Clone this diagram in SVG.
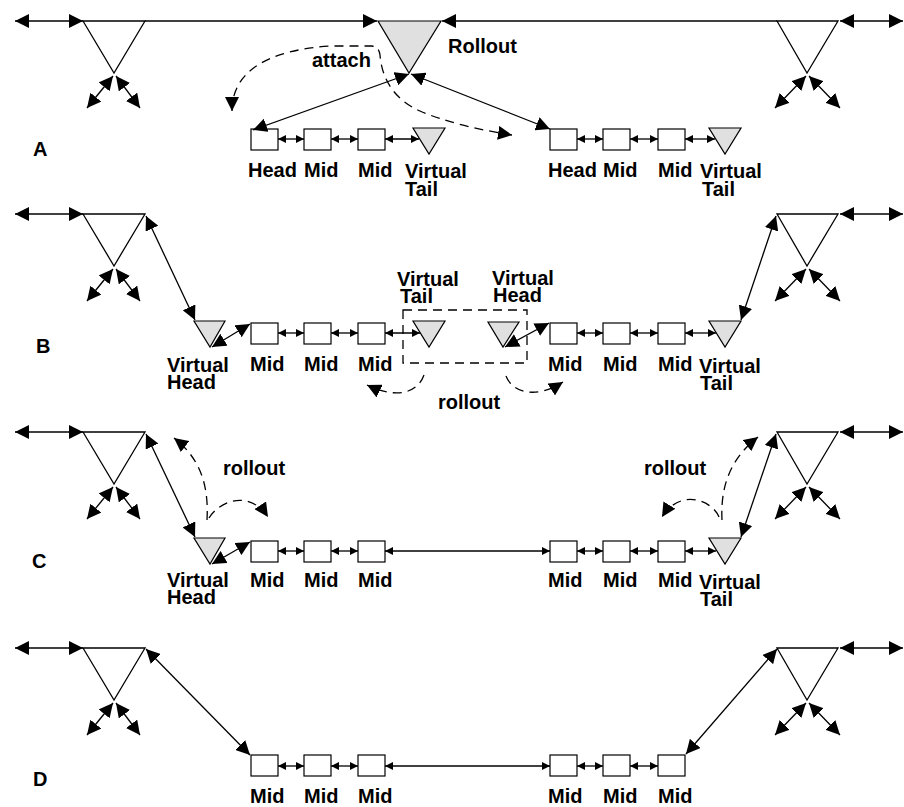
<svg xmlns="http://www.w3.org/2000/svg" width="904" height="807" viewBox="0 0 904 807">
<style>
.ln{stroke:#000;stroke-width:1.3;fill:none}
.dd{stroke:#000;stroke-width:1.3;fill:none;stroke-dasharray:9,6}
.sw{stroke:#000;stroke-width:1.3;fill:none}
.bx{stroke:#000;stroke-width:1.2;fill:#fff}
.vt{stroke:#000;stroke-width:1.2;fill:#e0e0e0}
.t{font-family:"Liberation Sans",Arial,Helvetica,sans-serif;font-weight:bold;font-size:20px;fill:#000}
.b2{marker-start:url(#ah);marker-end:url(#ah)}
.e1{marker-end:url(#ah)}
.s1{marker-start:url(#ah)}
.k2{marker-start:url(#as);marker-end:url(#as)}
</style>
<defs>
<marker id="ah" viewBox="0 0 14 14" refX="14" refY="7" markerWidth="14" markerHeight="14" markerUnits="userSpaceOnUse" orient="auto-start-reverse"><path d="M0,0 L14,7 L0,14 z" fill="#000"/></marker>
<marker id="as" viewBox="0 0 8 8" refX="8" refY="4" markerWidth="8" markerHeight="8" markerUnits="userSpaceOnUse" orient="auto-start-reverse"><path d="M0,0 L8,4 L0,8 z" fill="#000"/></marker>
</defs>

<!-- ================= A ================= -->
<g id="A-label"><text class="t" x="33" y="156">A</text></g>
<g id="A-swL"><polygon class="sw" points="83,21 145,21 114,73"/></g>
<g id="A-swR"><polygon class="sw" points="777,21 838,21 807,73"/></g>
<g id="A-rollout"><polygon class="vt" points="378,21 441,21 409,73"/><text class="t" x="448" y="53">Rollout</text></g>
<g id="A-L-head"><rect class="bx" x="251" y="129" width="27" height="21"/><text class="t" x="248" y="177">Head</text></g>
<g id="A-L-mid1"><rect class="bx" x="304" y="129" width="27" height="21"/><text class="t" x="304" y="177">Mid</text></g>
<g id="A-L-mid2"><rect class="bx" x="358" y="129" width="27" height="21"/><text class="t" x="358" y="177">Mid</text></g>
<g id="A-L-vtail"><polygon class="vt" points="413,128 445,128 429,154"/><text class="t" x="405" y="178">Virtual</text><text class="t" x="405" y="196">Tail</text></g>
<g id="A-R-head"><rect class="bx" x="550" y="129" width="27" height="21"/><text class="t" x="548" y="177">Head</text></g>
<g id="A-R-mid1"><rect class="bx" x="603" y="129" width="27" height="21"/><text class="t" x="603" y="177">Mid</text></g>
<g id="A-R-mid2"><rect class="bx" x="658" y="129" width="27" height="21"/><text class="t" x="658" y="177">Mid</text></g>
<g id="A-R-vtail"><polygon class="vt" points="709,128 741,128 725,154"/><text class="t" x="700" y="178">Virtual</text><text class="t" x="702" y="196">Tail</text></g>
<g id="A-attach"><text class="t" x="312" y="67">attach</text></g>

<!-- ================= B ================= -->
<g id="B-label"><text class="t" x="36" y="353">B</text></g>
<g id="B-swL"><polygon class="sw" points="83,214 145,214 114,266"/></g>
<g id="B-swR"><polygon class="sw" points="777,214 838,214 807,266"/></g>
<g id="B-L-vhead"><polygon class="vt" points="194,321 225,321 210,347"/><text class="t" x="167" y="372">Virtual</text><text class="t" x="167" y="389">Head</text></g>
<g id="B-L-mid1"><rect class="bx" x="251" y="323" width="27" height="21"/><text class="t" x="250" y="371">Mid</text></g>
<g id="B-L-mid2"><rect class="bx" x="304" y="323" width="27" height="21"/><text class="t" x="304" y="371">Mid</text></g>
<g id="B-L-mid3"><rect class="bx" x="358" y="323" width="27" height="21"/><text class="t" x="358" y="371">Mid</text></g>
<g id="B-L-vtail"><polygon class="vt" points="413,321 445,321 429,347"/><text class="t" x="397" y="286">Virtual</text><text class="t" x="400" y="303">Tail</text></g>
<g id="B-R-vhead"><polygon class="vt" points="488,322 519,322 503,347"/><text class="t" x="492" y="285">Virtual</text><text class="t" x="493" y="302">Head</text></g>
<g id="B-R-mid1"><rect class="bx" x="550" y="323" width="27" height="21"/><text class="t" x="548" y="371">Mid</text></g>
<g id="B-R-mid2"><rect class="bx" x="603" y="323" width="27" height="21"/><text class="t" x="603" y="371">Mid</text></g>
<g id="B-R-mid3"><rect class="bx" x="658" y="323" width="27" height="21"/><text class="t" x="658" y="371">Mid</text></g>
<g id="B-R-vtail"><polygon class="vt" points="709,321 741,321 725,347"/><text class="t" x="699" y="373">Virtual</text><text class="t" x="700" y="390">Tail</text></g>
<g id="B-box"><rect class="dd" x="403" y="310" width="124" height="53"/></g>
<g id="B-rollout"><text class="t" x="438" y="409">rollout</text></g>

<!-- ================= C ================= -->
<g id="C-label"><text class="t" x="32" y="568">C</text></g>
<g id="C-swL"><polygon class="sw" points="83,432 145,432 114,484"/></g>
<g id="C-swR"><polygon class="sw" points="777,432 838,432 807,484"/></g>
<g id="C-L-vhead"><polygon class="vt" points="194,538 225,538 210,564"/><text class="t" x="167" y="587">Virtual</text><text class="t" x="167" y="604">Head</text></g>
<g id="C-L-mid1"><rect class="bx" x="251" y="541" width="27" height="21"/><text class="t" x="250" y="587">Mid</text></g>
<g id="C-L-mid2"><rect class="bx" x="304" y="541" width="27" height="21"/><text class="t" x="304" y="587">Mid</text></g>
<g id="C-L-mid3"><rect class="bx" x="358" y="541" width="27" height="21"/><text class="t" x="358" y="587">Mid</text></g>
<g id="C-R-mid1"><rect class="bx" x="550" y="541" width="27" height="21"/><text class="t" x="548" y="587">Mid</text></g>
<g id="C-R-mid2"><rect class="bx" x="603" y="541" width="27" height="21"/><text class="t" x="603" y="587">Mid</text></g>
<g id="C-R-mid3"><rect class="bx" x="658" y="541" width="27" height="21"/><text class="t" x="658" y="587">Mid</text></g>
<g id="C-R-vtail"><polygon class="vt" points="709,538 741,538 725,564"/><text class="t" x="699" y="589">Virtual</text><text class="t" x="700" y="606">Tail</text></g>
<g id="C-rollL"><text class="t" x="223" y="475">rollout</text></g>
<g id="C-rollR"><text class="t" x="644" y="475">rollout</text></g>

<!-- ================= D ================= -->
<g id="D-label"><text class="t" x="33" y="786">D</text></g>
<g id="D-swL"><polygon class="sw" points="83,648 145,648 114,700"/></g>
<g id="D-swR"><polygon class="sw" points="777,648 838,648 807,700"/></g>
<g id="D-L-mid1"><rect class="bx" x="251" y="755" width="27" height="21"/><text class="t" x="250" y="803">Mid</text></g>
<g id="D-L-mid2"><rect class="bx" x="304" y="755" width="27" height="21"/><text class="t" x="304" y="803">Mid</text></g>
<g id="D-L-mid3"><rect class="bx" x="358" y="755" width="27" height="21"/><text class="t" x="358" y="803">Mid</text></g>
<g id="D-R-mid1"><rect class="bx" x="550" y="755" width="27" height="21"/><text class="t" x="548" y="803">Mid</text></g>
<g id="D-R-mid2"><rect class="bx" x="603" y="755" width="27" height="21"/><text class="t" x="603" y="803">Mid</text></g>
<g id="D-R-mid3"><rect class="bx" x="658" y="755" width="27" height="21"/><text class="t" x="658" y="803">Mid</text></g>

<!-- ================= connectors ================= -->
<g id="connectors">
  <!-- A -->
  <line class="ln b2" x1="15" y1="21" x2="83" y2="21"/>
  <line class="ln e1" x1="145" y1="21" x2="377" y2="21"/>
  <line class="ln s1" x1="442" y1="21" x2="777" y2="21"/>
  <line class="ln b2" x1="840" y1="21" x2="903" y2="21"/>
  <line class="ln b2" x1="113" y1="76" x2="87" y2="108"/>
  <line class="ln b2" x1="116" y1="76" x2="140" y2="108"/>
  <line class="ln b2" x1="806" y1="76" x2="775" y2="108"/>
  <line class="ln b2" x1="809" y1="76" x2="840" y2="108"/>
  <line class="ln b2" x1="409" y1="74" x2="253" y2="130"/>
  <line class="ln b2" x1="411" y1="74" x2="550" y2="129"/>
  <line class="ln k2" x1="278" y1="139" x2="304" y2="139"/>
  <line class="ln k2" x1="331" y1="139" x2="358" y2="139"/>
  <line class="ln k2" x1="385" y1="139" x2="419" y2="139"/>
  <line class="ln k2" x1="577" y1="139" x2="603" y2="139"/>
  <line class="ln k2" x1="630" y1="139" x2="658" y2="139"/>
  <line class="ln k2" x1="685" y1="139" x2="715" y2="139"/>
  <path class="dd s1 e1" d="M232,111 C232,70 270,50 330,46 L372,46 Q379,47 380,55 C382,80 395,100 420,111 C445,122 480,130 512,135"/>
  <!-- B -->
  <line class="ln b2" x1="15" y1="214" x2="83" y2="214"/>
  <line class="ln b2" x1="840" y1="214" x2="903" y2="214"/>
  <line class="ln b2" x1="113" y1="269" x2="87" y2="301"/>
  <line class="ln b2" x1="116" y1="269" x2="140" y2="301"/>
  <line class="ln b2" x1="806" y1="269" x2="775" y2="301"/>
  <line class="ln b2" x1="809" y1="269" x2="840" y2="301"/>
  <line class="ln b2" x1="146" y1="216" x2="195" y2="320"/>
  <line class="ln b2" x1="776" y1="216" x2="741" y2="320"/>
  <line class="ln b2" x1="212" y1="347" x2="250" y2="324"/>
  <line class="ln b2" x1="505" y1="347" x2="549" y2="323"/>
  <line class="ln k2" x1="278" y1="333" x2="304" y2="333"/>
  <line class="ln k2" x1="331" y1="333" x2="358" y2="333"/>
  <line class="ln k2" x1="385" y1="333" x2="420" y2="333"/>
  <line class="ln k2" x1="577" y1="333" x2="603" y2="333"/>
  <line class="ln k2" x1="630" y1="333" x2="658" y2="333"/>
  <line class="ln k2" x1="685" y1="333" x2="716" y2="333"/>
  <path class="dd e1" d="M424,375 C418,392 398,400 367,385"/>
  <path class="dd e1" d="M506,376 C512,392 535,400 563,382"/>
  <!-- C -->
  <line class="ln b2" x1="15" y1="432" x2="83" y2="432"/>
  <line class="ln b2" x1="840" y1="432" x2="903" y2="432"/>
  <line class="ln b2" x1="113" y1="487" x2="87" y2="519"/>
  <line class="ln b2" x1="116" y1="487" x2="140" y2="519"/>
  <line class="ln b2" x1="806" y1="487" x2="775" y2="519"/>
  <line class="ln b2" x1="809" y1="487" x2="840" y2="519"/>
  <line class="ln b2" x1="146" y1="434" x2="195" y2="537"/>
  <line class="ln b2" x1="776" y1="434" x2="741" y2="537"/>
  <line class="ln b2" x1="212" y1="564" x2="250" y2="542"/>
  <line class="ln k2" x1="278" y1="551" x2="304" y2="551"/>
  <line class="ln k2" x1="331" y1="551" x2="358" y2="551"/>
  <line class="ln k2" x1="385" y1="551" x2="550" y2="551"/>
  <line class="ln k2" x1="577" y1="551" x2="603" y2="551"/>
  <line class="ln k2" x1="630" y1="551" x2="658" y2="551"/>
  <line class="ln k2" x1="685" y1="551" x2="716" y2="551"/>
  <path class="dd e1" d="M207,520 C209,485 200,458 174,438"/>
  <path class="dd e1" d="M209,518 C220,500 250,490 268,517"/>
  <path class="dd e1" d="M722,520 C720,480 735,455 758,437"/>
  <path class="dd e1" d="M719,517 C712,500 680,488 662,517"/>
  <!-- D -->
  <line class="ln b2" x1="15" y1="648" x2="83" y2="648"/>
  <line class="ln b2" x1="840" y1="648" x2="903" y2="648"/>
  <line class="ln b2" x1="113" y1="703" x2="87" y2="735"/>
  <line class="ln b2" x1="116" y1="703" x2="140" y2="735"/>
  <line class="ln b2" x1="806" y1="703" x2="775" y2="735"/>
  <line class="ln b2" x1="809" y1="703" x2="840" y2="735"/>
  <line class="ln b2" x1="146" y1="649" x2="250" y2="755"/>
  <line class="ln b2" x1="777" y1="649" x2="686" y2="754"/>
  <line class="ln k2" x1="278" y1="766" x2="304" y2="766"/>
  <line class="ln k2" x1="331" y1="766" x2="358" y2="766"/>
  <line class="ln k2" x1="385" y1="766" x2="550" y2="766"/>
  <line class="ln k2" x1="577" y1="766" x2="603" y2="766"/>
  <line class="ln k2" x1="630" y1="766" x2="658" y2="766"/>
</g>
</svg>
